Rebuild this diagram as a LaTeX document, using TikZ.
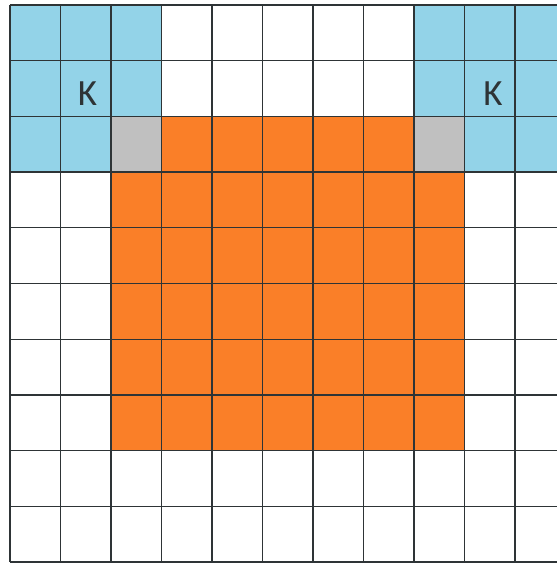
\documentclass[tikz,border=0pt]{standalone}
\usepackage{fontspec}
\setmainfont{Carlito}
\definecolor{cellblue}{HTML}{93D3E8}
\definecolor{cellorange}{HTML}{FA7F28}
\definecolor{cellgray}{HTML}{C0C0C0}
\definecolor{gridline}{HTML}{2E3436}
\begin{document}
\begin{tikzpicture}[x=1pt,y=-1pt,
  gridstyle/.style={draw=gridline,line width=1.3pt},
  klabel/.style={font=\fontsize{37}{37}\selectfont,text=gridline,inner sep=0pt}]
\useasboundingbox (0,0) rectangle (557,563);
\fill[white] (0,0) rectangle (557,563);
\def\cw{50.5}
\def\rh{55.7}
% blue blocks
\fill[cellblue] (10,5) rectangle ({10+3*\cw},{5+3*\rh});
\fill[cellblue] ({10+8*\cw},5) rectangle ({10+11*\cw},{5+3*\rh});
% gray cells
\fill[cellgray] ({10+2*\cw},{5+2*\rh}) rectangle ({10+3*\cw},{5+3*\rh});
\fill[cellgray] ({10+8*\cw},{5+2*\rh}) rectangle ({10+9*\cw},{5+3*\rh});
% orange
\fill[cellorange] ({10+3*\cw},{5+2*\rh}) rectangle ({10+8*\cw},{5+3*\rh});
\fill[cellorange] ({10+2*\cw},{5+3*\rh}) rectangle ({10+9*\cw},{5+8*\rh});
% grid
\foreach \i in {0,...,11} \draw[gridstyle] ({10+\i*\cw},5) -- ({10+\i*\cw},{5+10*\rh});
\foreach \j in {0,...,10} \draw[gridstyle] (10,{5+\j*\rh}) -- (557,{5+\j*\rh});
% labels
\node[klabel] (kleft) at (87.5,94) {K};
\node[klabel] (kright) at (493,94) {K};
\end{tikzpicture}
\end{document}
